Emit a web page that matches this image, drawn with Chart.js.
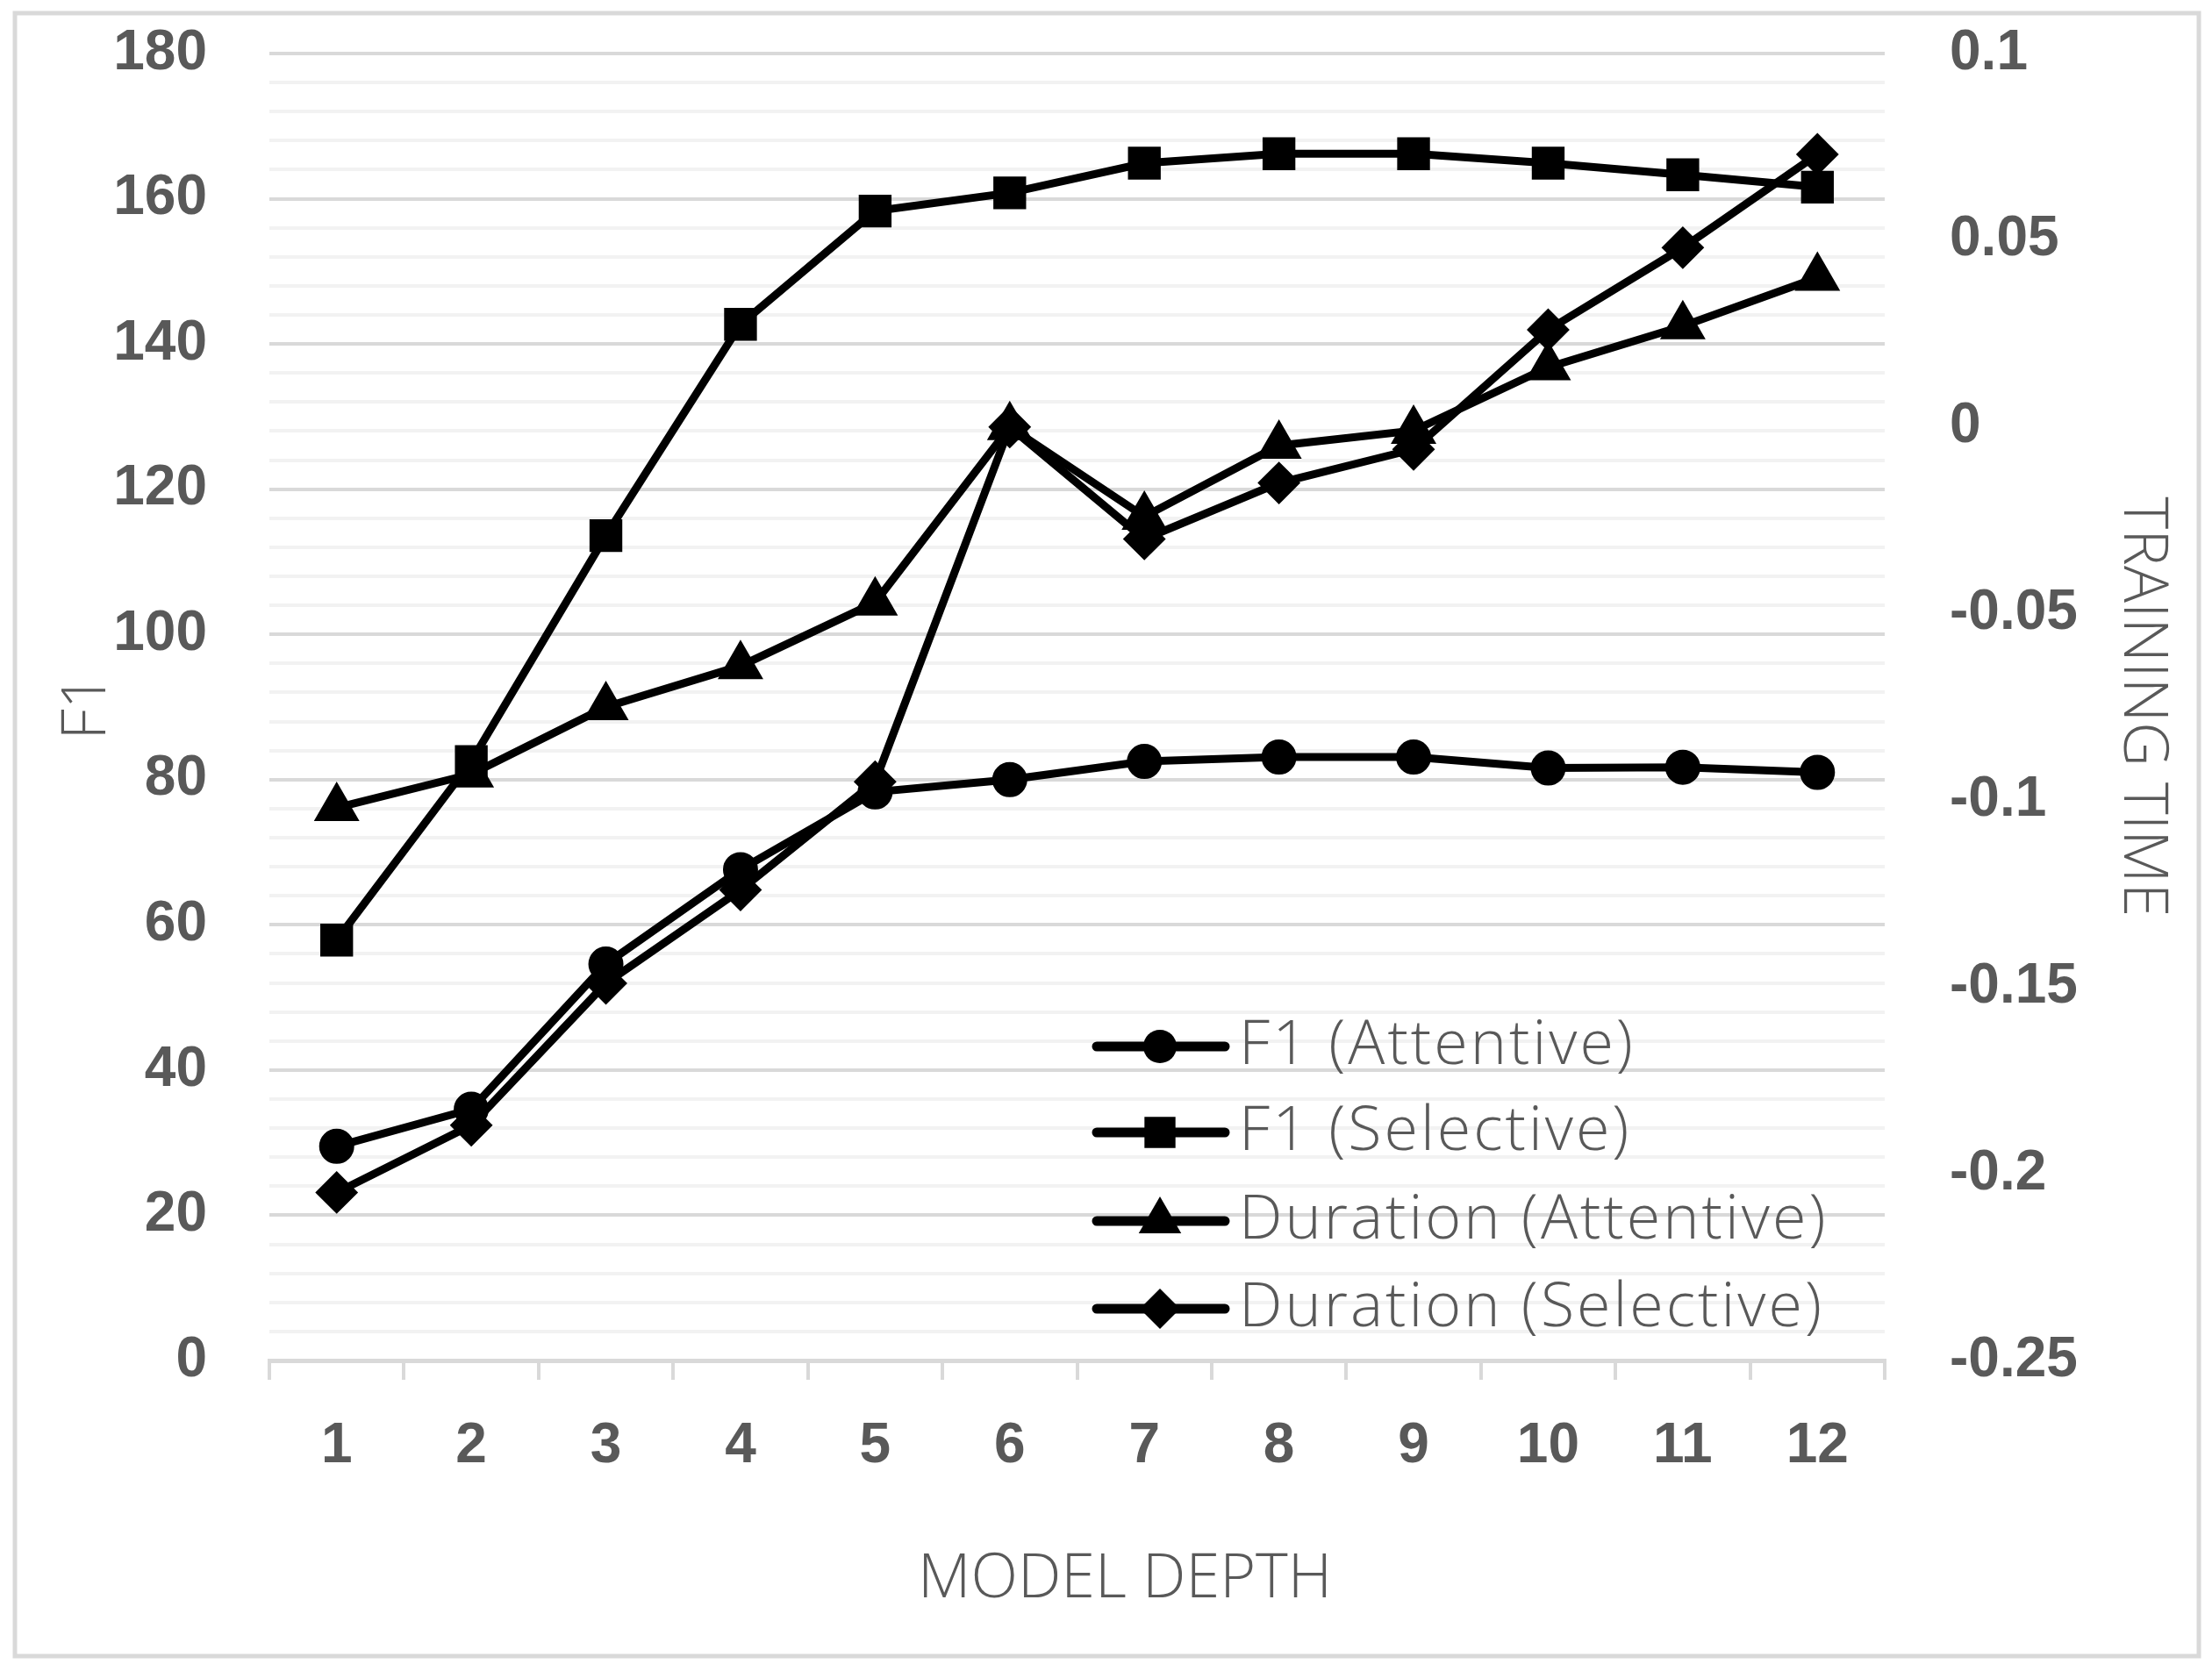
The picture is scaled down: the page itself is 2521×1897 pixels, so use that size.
<!DOCTYPE html>
<html>
<head>
<meta charset="utf-8">
<script src="https://cdn.jsdelivr.net/npm/chart.js@4.4.0/dist/chart.umd.min.js"></script>
<style>
  html, body { margin: 0; padding: 0; background: #fff; }
  #wrap { width: 2521px; height: 1897px; }
</style>
</head>
<body>
<div id="wrap"><canvas id="depthChart" width="2521" height="1897"></canvas></div>
<script>
// values
var depths = ["1", "2", "3", "4", "5", "6", "7", "8", "9", "10", "11", "12"];
var f1Attentive = [29.5, 34.6, 54.6, 67.6, 78.3, 80.0, 82.5, 83.1, 83.1, 81.6, 81.7, 81.0];
var f1Selective = [57.9, 82.5, 113.6, 142.7, 158.3, 160.8, 164.9, 166.2, 166.2, 164.9, 163.3, 161.6];
var durationAttentive = [-0.102, -0.093, -0.075, -0.064, -0.047, 0.000, -0.024, -0.005, -0.001, 0.016, 0.027, 0.040];
var durationSelective = [-0.205, -0.187, -0.149, -0.124, -0.095, 0.000, -0.030, -0.015, -0.006, 0.026, 0.048, 0.073];

var seriesNames = ["F1 (Attentive)", "F1 (Selective)", "Duration (Attentive)", "Duration (Selective)"];
var markerStyles = ["circle", "rect", "triangle", "rectRot"];
var markerSizes = [19, 25, 28, 23];

var tickFont = { family: "'Liberation Sans Narrow', 'Liberation Sans', Arial, sans-serif", size: 64, weight: "bold" };
var titleFont = { family: "'Open Sans', 'Noto Sans', sans-serif", size: 70, weight: "300" };
var grey = "#595959";

function makeSet(i, data, axis) {
  return {
    label: seriesNames[i],
    data: data,
    yAxisID: axis,
    borderColor: "#000",
    backgroundColor: "#000",
    borderWidth: 9,
    pointStyle: markerStyles[i],
    pointRadius: markerSizes[i],
    pointBorderWidth: 2,
    pointBackgroundColor: "#000",
    pointBorderColor: "#000",
    tension: 0
  };
}

// grey frame round the whole figure
var framePlugin = {
  id: "frame",
  beforeDraw: function(chart) {
    var c = chart.ctx;
    c.save();
    c.fillStyle = "#fff";
    c.fillRect(0, 0, chart.width, chart.height);
    c.strokeStyle = "#d9d9d9";
    c.lineWidth = 5;
    c.strokeRect(17, 15, 2489, 1873);
    c.restore();
  }
};

function drawMarker(c, style, x, y, r) {
  c.beginPath();
  if (style === "circle") {
    c.arc(x, y, r, 0, Math.PI * 2);
  } else if (style === "rect") {
    var s = r * Math.SQRT1_2;
    c.rect(x - s, y - s, 2 * s, 2 * s);
  } else if (style === "triangle") {
    c.moveTo(x, y - r);
    c.lineTo(x + r * 0.866, y + r / 2);
    c.lineTo(x - r * 0.866, y + r / 2);
    c.closePath();
  } else {
    c.moveTo(x, y - r);
    c.lineTo(x + r, y);
    c.lineTo(x, y + r);
    c.lineTo(x - r, y);
    c.closePath();
  }
  c.fill();
}

// legend inside the plot, line + marker like the original
var legendPlugin = {
  id: "inLegend",
  afterDraw: function(chart) {
    var c = chart.ctx;
    var rows = [1193, 1291, 1392, 1492];
    c.save();
    chart.data.datasets.forEach(function(ds, i) {
      var y = rows[i];
      c.strokeStyle = "#000";
      c.lineWidth = 11;
      c.lineCap = "round";
      c.beginPath();
      c.moveTo(1250, y);
      c.lineTo(1396, y);
      c.stroke();
      c.fillStyle = "#000";
      drawMarker(c, ds.pointStyle, 1322, y, ds.pointRadius);
      c.fillStyle = grey;
      c.font = titleFont.weight + " " + titleFont.size + "px " + titleFont.family;
      c.letterSpacing = "3px";
      c.textBaseline = "middle";
      c.textAlign = "left";
      c.fillText(ds.label, 1412, y);
    });
    c.restore();
  }
};

// keep the plot box where the original has it
function noEdgePad(s) {
  s.paddingTop = 0;
  s.paddingBottom = 0;
}

var ctx = document.getElementById("depthChart").getContext("2d");
var depthChart = new Chart(ctx, {
  type: "line",
  data: {
    labels: depths,
    datasets: [
      makeSet(0, f1Attentive, "y"),
      makeSet(1, f1Selective, "y"),
      makeSet(2, durationAttentive, "y1"),
      makeSet(3, durationSelective, "y1")
    ]
  },
  options: {
    responsive: false,
    devicePixelRatio: 1,
    animation: false,
    layout: { padding: { left: 20, right: 20, top: 61, bottom: 20 } },
    plugins: { legend: { display: false }, tooltip: { enabled: false } },
    scales: {
      x: {
        offset: true,
        grid: { offset: true, drawOnChartArea: false, drawTicks: true, tickLength: 22, color: "#d9d9d9", lineWidth: 4 },
        border: { display: true, color: "#d9d9d9", width: 5 },
        ticks: { color: grey, font: tickFont, padding: 38, maxRotation: 0, autoSkip: false },
        title: { display: true, text: "      MODEL DEPTH", color: grey, font: titleFont, padding: { top: 0, bottom: 34 } },
        afterFit: function(s) { s.height = 326; }
      },
      y: {
        position: "left",
        min: 0,
        max: 180,
        grid: {
          drawTicks: false,
          lineWidth: 4,
          color: function(c) { return c.tick && Math.round(c.tick.value) % 20 === 0 ? "#d9d9d9" : "#f2f2f2"; }
        },
        border: { display: false },
        ticks: {
          stepSize: 4,
          autoSkip: false,
          padding: 71,
          color: grey,
          font: tickFont,
          callback: function(v) { return Math.round(v) % 20 === 0 ? String(Math.round(v)) : ""; }
        },
        title: { display: true, text: "F1", color: grey, font: titleFont, padding: { top: 38, bottom: 0 } },
        afterFit: function(s) { s.width = 287; noEdgePad(s); }
      },
      y1: {
        position: "right",
        min: -0.25,
        max: 0.1,
        grid: { drawOnChartArea: false, drawTicks: false },
        border: { display: false },
        ticks: {
          stepSize: 0.05,
          padding: 74,
          color: grey,
          font: tickFont,
          callback: function(v) { return String(parseFloat(v.toFixed(2))); }
        },
        title: { display: true, text: "TRAINING TIME", color: grey, font: titleFont, padding: { top: 18, bottom: 0 } },
        afterFit: function(s) { s.width = 353; noEdgePad(s); }
      }
    }
  },
  plugins: [framePlugin, legendPlugin]
});
</script>
</body>
</html>
